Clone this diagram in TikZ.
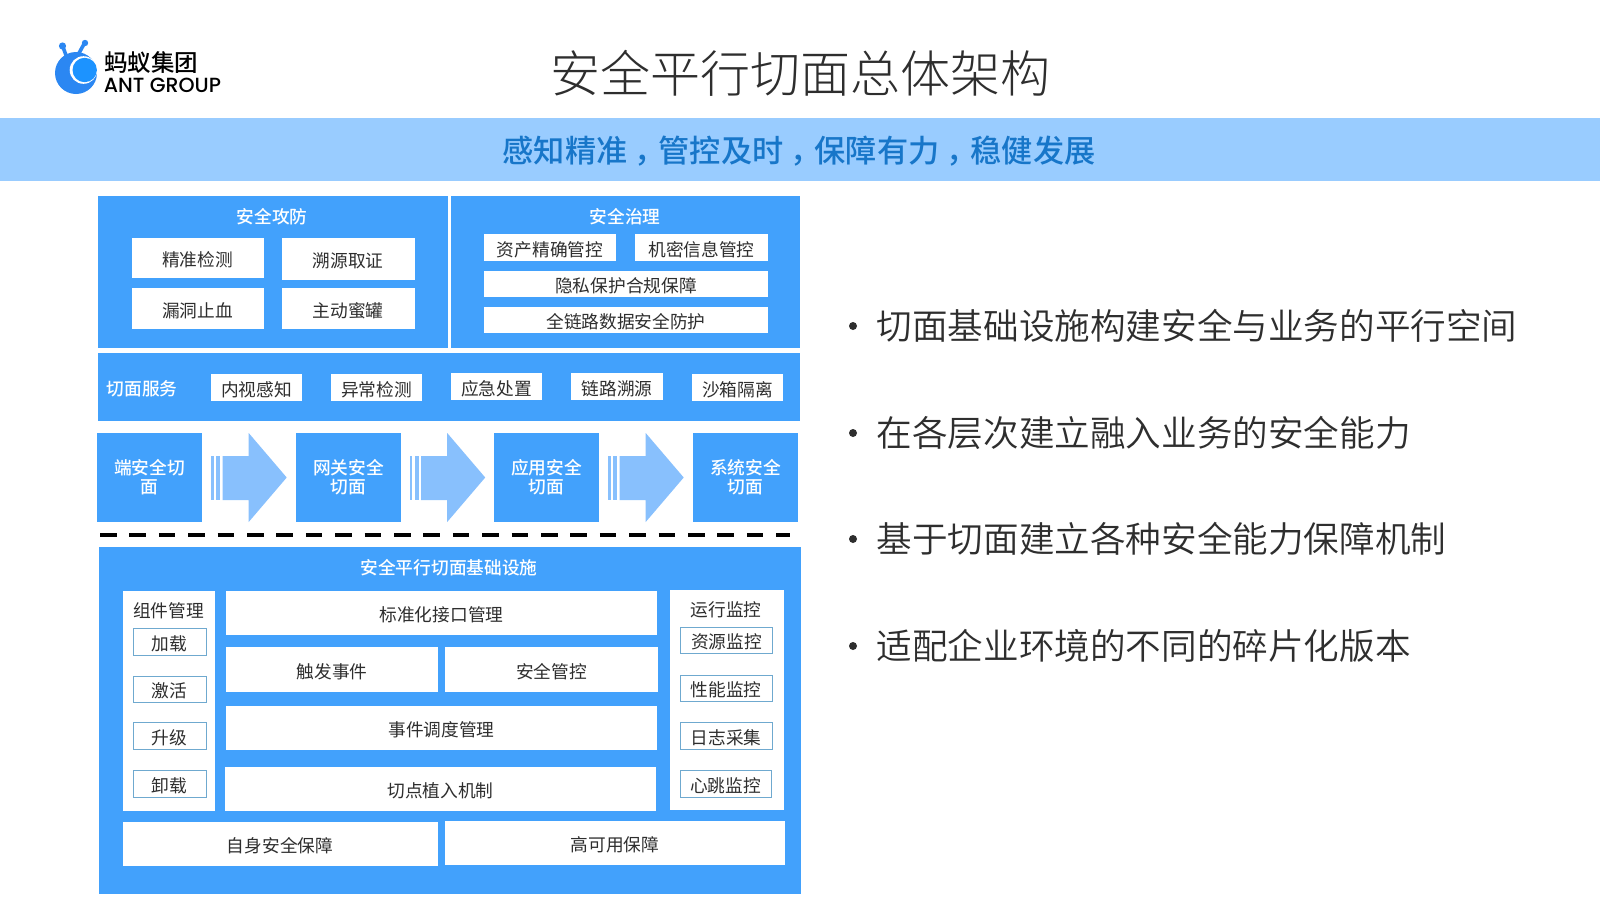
\documentclass[tikz,border=0pt]{standalone}
\usepackage{fontspec}
\setmainfont{Noto Sans CJK SC}
\newfontfamily\lightcjk{Noto Sans CJK SC Light}
\newfontfamily\softcjk{Noto Sans CJK SC DemiLight}
\newfontfamily\medcjk{Noto Sans CJK SC Medium}
\newfontfamily\latinlogo{Poppins Medium}
\definecolor{panelblue}{HTML}{42A1FC}
\definecolor{bannerblue}{HTML}{99CCFF}
\definecolor{bannertext}{HTML}{1776C9}
\definecolor{arrowblue}{HTML}{88C0FD}
\definecolor{inktext}{HTML}{2E2E2E}
\definecolor{boxedge}{HTML}{6FA9CF}
\definecolor{logobody}{HTML}{2B87F2}
\definecolor{logoeye}{HTML}{1C93FF}
\newcommand{\fs}[1]{\fontsize{#1}{#1}\selectfont}
\newcommand{\fw}{\kern7pt\char"FF0C\relax\kern-7pt}
\newcommand{\bx}[7][whitebox]{\node[#1,minimum width={(#5-#3)*1pt},minimum height={(#6-#4)*1pt}] (#2) at ({(#3+#5)/2},{(#4+#6)/2}) {#7};}
\newcommand{\arrowshape}[1]{%
  \fill[arrowblue,xshift=#1pt] (222.7,456) -- (248.7,456) -- (248.7,433) -- (286.7,477.5) -- (248.7,522) -- (248.7,500) -- (222.7,500) -- cycle;
  \fill[arrowblue,xshift=#1pt] (211,456) rectangle (213.5,500);
  \fill[arrowblue,xshift=#1pt] (216,456) rectangle (220,500);
}
\tikzset{
  panel/.style={fill=panelblue,draw=none,inner sep=0pt},
  whitebox/.style={fill=white,draw=none,inner sep=0pt,align=center,text=inktext,font=\fs{17.7},text height=19.2pt,text depth=2.2pt},
  outlined/.style={whitebox,draw=boxedge,line width=1pt},
  flowbox/.style={panel,align=center,text=white,font=\medcjk\fs{17.7},text width=92pt,execute at begin node={\vspace*{2.5pt}}},
  headline/.style={text=white,font=\medcjk\fs{17.7},inner sep=0pt},
  sidehead/.style={text=inktext,font=\fs{17.7},inner sep=0pt},
  bullettext/.style={anchor=west,text=inktext,font=\softcjk\fs{35.6},inner sep=0pt},
  bulletdot/.style={circle,fill=inktext,draw=none,minimum size=8pt,inner sep=0pt},
}
\begin{document}
\begin{tikzpicture}[x=1pt,y=-1pt]
\useasboundingbox (0,0) rectangle (1600,900);
\fill[white] (0,0) rectangle (1600,900);
% logo
\fill[logobody] (76,73) circle (21);
\draw[logobody,line width=3.6pt,line cap=round] (67,58) -- (63,47);
\fill[logobody] (62.5,46) circle (3.6);
\draw[logobody,line width=3.6pt,line cap=round] (78,55) -- (84,44);
\fill[logobody] (85,43) circle (3.2);
\fill[white] (83.5,70) circle (13.8);
\fill[logoeye] (84.7,70) circle (12.2);
\node[inner sep=0pt,text=black,font=\medcjk\fs{23.5}] (logocn) at (151,63) {蚂蚁集团};
\node[inner sep=0pt,text=black,font=\latinlogo\fs{20.5}] (logoen) at (162.5,85) {ANT GROUP};
% title
\node[inner sep=0pt,text=inktext,font=\lightcjk\fs{50}] (title) at (800,73) {安全平行切面总体架构};
% banner
\fill[bannerblue] (0,118) rectangle (1600,181);
\node[inner sep=0pt,text=bannertext,font=\medcjk\fs{31.2}] (banner) at (799,151) {感知精准\fw 管控及时\fw 保障有力\fw 稳健发展};
% top panels
\bx[panel]{pa}{98}{196}{448}{348}{}
\bx[panel]{pb}{451}{196}{800}{348}{}
\node[headline] (ha) at (272,216.5) {安全攻防};
\node[headline] (hb) at (625,216.5) {安全治理};
\bx{a1}{131.5}{238}{263.5}{278}{精准检测}
\bx{a2}{281.5}{238}{414.5}{280}{溯源取证}
\bx{a3}{131.5}{288}{263.5}{329}{漏洞止血}
\bx{a4}{281.5}{288}{414.5}{329}{主动蜜罐}
\bx{b1}{484}{234}{616}{261}{资产精确管控}
\bx{b2}{635}{234}{768}{261}{机密信息管控}
\bx{b3}{484}{271}{768}{297}{隐私保护合规保障}
\bx{b4}{484}{307}{768}{333}{全链路数据安全防护}
% service band
\bx[panel]{ps}{98}{353}{799.5}{421}{}
\node[headline,anchor=west] (hs) at (106.5,388.5) {切面服务};
\bx{s1}{211}{374}{302}{401}{内视感知}
\bx{s2}{331}{374}{422}{401}{异常检测}
\bx{s3}{451}{373}{542}{400}{应急处置}
\bx{s4}{571}{373}{663}{400}{链路溯源}
\bx{s5}{692}{374}{783}{401}{沙箱隔离}
% flow row
\bx[flowbox]{f1}{97}{433}{202}{522}{端安全切\\[-1.2pt]面}
\bx[flowbox]{f2}{296}{433}{401}{522}{网关安全\\[-1.2pt]切面}
\bx[flowbox]{f3}{494}{433}{599}{522}{应用安全\\[-1.2pt]切面}
\bx[flowbox]{f4}{693}{433}{798}{522}{系统安全\\[-1.2pt]切面}
\arrowshape{0}
\arrowshape{198.5}
\arrowshape{397}
% separator
\draw[black,line width=4.5pt,dash pattern=on 16.6pt off 12.8pt] (100,535) -- (790,535);
% foundation
\bx[panel]{pf}{99}{547}{801}{894}{}
\node[headline] (hf) at (449,567.5) {安全平行切面基础设施};
\bx{cl}{123}{591}{215}{811}{}
\bx{cr}{670}{590}{784}{810}{}
\node[sidehead] (hl) at (168.5,610.5) {组件管理};
\node[sidehead] (hr) at (726,609.5) {运行监控};
\bx[outlined]{l1}{133}{628}{206}{655}{加载}
\bx[outlined]{l2}{133}{676}{206}{702}{激活}
\bx[outlined]{l3}{133}{722}{206}{749}{升级}
\bx[outlined]{l4}{133}{770}{206}{797}{卸载}
\bx[outlined]{r1}{680.5}{627}{772.5}{653}{资源监控}
\bx[outlined]{r2}{680.5}{675}{772}{701}{性能监控}
\bx[outlined]{r3}{680.5}{722}{772}{749}{日志采集}
\bx[outlined]{r4}{680}{770}{771}{797}{心跳监控}
\bx{c1}{226}{591}{657}{635}{标准化接口管理}
\bx{c2}{226}{647}{438}{692}{触发事件}
\bx{c3}{445}{647}{658}{692}{安全管控}
\bx{c4}{226}{706}{657}{750}{事件调度管理}
\bx{c5}{225}{767}{656}{811}{切点植入机制}
\bx{d1}{122.5}{822}{437.5}{866}{自身安全保障}
\bx{d2}{445}{821}{785}{865}{高可用保障}
% bullets
\node[bulletdot] (p1) at (853,326) {};
\node[bulletdot] (p2) at (853,433) {};
\node[bulletdot] (p3) at (853,539) {};
\node[bulletdot] (p4) at (853,646) {};
\node[bullettext] (t1) at (876.5,326) {切面基础设施构建安全与业务的平行空间};
\node[bullettext] (t2) at (876.5,433) {在各层次建立融入业务的安全能力};
\node[bullettext] (t3) at (876.5,539) {基于切面建立各种安全能力保障机制};
\node[bullettext] (t4) at (876.5,646) {适配企业环境的不同的碎片化版本};
\end{tikzpicture}
\end{document}
